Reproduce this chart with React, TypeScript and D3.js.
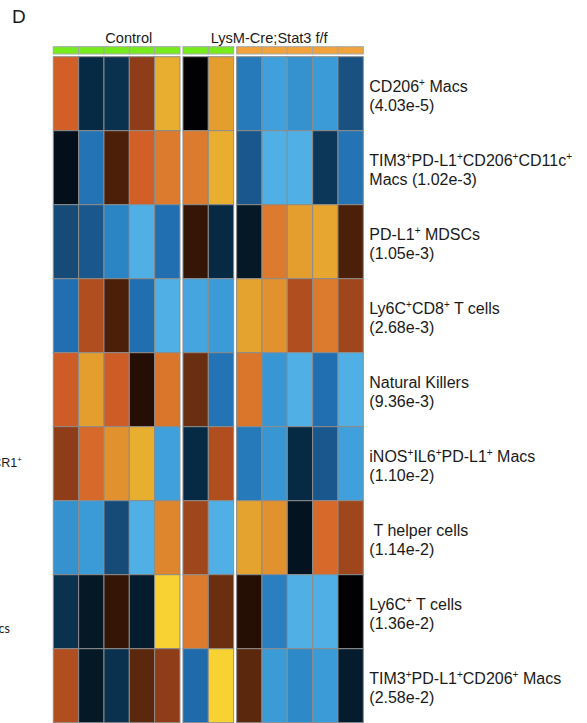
import React from 'react';
import * as d3 from 'd3';

// ---- data ----
const columns = ['C1', 'C2', 'C3', 'C4', 'C5', 'C6', 'C7', 'K1', 'K2', 'K3', 'K4', 'K5'];
const columnGroup = [0, 0, 0, 0, 0, 1, 1, 2, 2, 2, 2, 2];
const columnCondition = ['Control', 'Control', 'Control', 'Control', 'Control', 'Control', 'Control',
  'LysM-Cre;Stat3 f/f', 'LysM-Cre;Stat3 f/f', 'LysM-Cre;Stat3 f/f', 'LysM-Cre;Stat3 f/f', 'LysM-Cre;Stat3 f/f'];
const conditions = ['Control', 'LysM-Cre;Stat3 f/f'];

const rowNames = [
  'CD206+ Macs',
  'TIM3+PD-L1+CD206+CD11c+ Macs',
  'PD-L1+ MDSCs',
  'Ly6C+CD8+ T cells',
  'Natural Killers',
  'iNOS+IL6+PD-L1+ Macs',
  ' T helper cells',
  'Ly6C+ T cells',
  'TIM3+PD-L1+CD206+ Macs',
];
const pValues = ['4.03e-5', '1.02e-3', '1.05e-3', '2.68e-3', '9.36e-3', '1.10e-2', '1.14e-2', '1.36e-2', '2.58e-2'];
const labelLine1 = ['CD206+ Macs', 'TIM3+PD-L1+CD206+CD11c+', 'PD-L1+ MDSCs', 'Ly6C+CD8+ T cells',
  'Natural Killers', 'iNOS+IL6+PD-L1+ Macs', ' T helper cells', 'Ly6C+ T cells', 'TIM3+PD-L1+CD206+ Macs'];
const labelLine2 = pValues.map((p, i) => (i === 1 ? `Macs (${p})` : `(${p})`));

const cd206Macs = [2.0, -0.5, -0.6, 1.5, 3.0, 0.0, 2.8, -1.8, -2.6, -2.3, -2.5, -1.1];
const tim3Cd11cMacs = [-0.2, -1.7, 1.0, 2.0, 2.5, 2.5, 3.0, -1.2, -2.9, -2.9, -0.7, -1.7];
const pdl1Mdscs = [-1.0, -1.2, -2.0, -2.9, -1.6, 0.6, -0.5, -0.3, 2.5, 2.8, 2.9, 1.0];
const ly6cCd8T = [-1.6, 1.7, 1.0, -1.6, -2.9, -2.7, -2.5, 2.85, 2.7, 1.7, 2.5, 1.6];
const naturalKillers = [1.95, 2.8, 1.95, 0.4, 2.4, 1.2, -1.7, 2.4, -2.4, -2.9, -1.6, -2.9];
const inosIl6Macs = [1.5, 2.2, 2.7, 3.0, -2.6, -0.5, 1.7, -1.8, -2.4, -0.5, -1.2, -2.6];
const tHelper = [-2.3, -2.5, -1.0, -2.9, 2.6, 1.6, -2.9, 2.85, 2.7, -0.25, 2.2, 1.6];
const ly6cT = [-0.6, -0.3, 0.6, -0.35, 3.5, 2.5, 1.2, 0.4, -1.9, -2.9, -2.9, 0.0];
const tim3Cd206Macs = [1.7, -0.3, -0.6, 1.1, 1.5, -1.5, 3.5, 1.1, -2.5, -2.1, -2.5, -0.35];
const matrix = [cd206Macs, tim3Cd11cMacs, pdl1Mdscs, ly6cCd8T, naturalKillers, inosIl6Macs, tHelper, ly6cT, tim3Cd206Macs];

const colorStops = [-3, -2.5, -2, -1.5, -1, -0.5, -0.25, 0, 0.5, 1, 1.2, 1.5, 1.7, 2, 2.5, 2.8, 3, 3.5];
const colorValues = ['#55b5e9', '#3b9bd7', '#2b84c4', '#1f6aab', '#164b78', '#072a44', '#03131f', '#010104',
  '#2e1305', '#4c1f09', '#6a2e10', '#8f3d18', '#b04e20', '#d35f28', '#dc7a2d', '#e39e2e', '#e8ae30', '#f8d232'];
const conditionColors = ['#77ec1c', '#f1a23a'];

// ---- layout ----
const W = 587;
const H = 723;
const left = 53.3;
const top = 56.7;
const groupGap = 3;
const heatW = 310;
const rowH = 74;
const barTop = 46.7;
const barH = 7.3;

function Label({ text, x, y, size, supSize, anchor }: { text: string; x: number; y: number; size: number; supSize: number; anchor?: string }) {
  const parts = text.split(/(\+)/).filter((s) => s.length > 0);
  const raise = size * 0.38;
  let raised = false;
  return (
    <text x={x} y={y} fontSize={size} textAnchor={anchor || 'start'} style={{ whiteSpace: 'pre' }}
      fontFamily="'Liberation Sans', Arial, Helvetica, sans-serif" fill="#1a1a1a">
      {parts.map((p, i) => {
        if (p === '+') {
          const dy = raised ? 0 : -raise;
          raised = true;
          return <tspan key={i} dy={dy} fontSize={supSize}>+</tspan>;
        }
        const dy = raised ? raise : 0;
        raised = false;
        return <tspan key={i} dy={dy}>{p}</tspan>;
      })}
    </text>
  );
}

export default function App() {
  const color = d3.scaleLinear<string>().domain(colorStops).range(colorValues).interpolate(d3.interpolateRgb).clamp(true);
  const nGaps = d3.max(columnGroup) as number;
  const x = d3.scaleBand<string>().domain(columns).range([left, left + heatW - nGaps * groupGap]).padding(0);
  const colX = (i: number) => (x(columns[i]) as number) + columnGroup[i] * groupGap;
  const cw = x.bandwidth();
  const y = d3.scaleBand<string>().domain(rowNames).range([top, top + rowH * rowNames.length]).padding(0);
  const condColor = d3.scaleOrdinal<string, string>().domain(conditions).range(conditionColors);
  const labelX = left + heatW + 6;
  const group3Left = colX(columnCondition.indexOf(conditions[1]));

  return (
    <svg width={W} height={H} style={{ position: 'absolute', left: 0, top: 0, background: '#fff' }}>
      <rect x={0} y={0} width={W} height={H} fill="#fff" />
      <text x={12} y={23} fontSize={19} fontFamily="'Liberation Sans', Arial, sans-serif" fill="#1a1a1a">D</text>

      {/* fragments of neighbouring panel labels */}
      <Label text="CX3CR1+" x={22} y={467} size={12.5} supSize={8} anchor="end" />
      <text x={10} y={633} fontSize={12.5} textAnchor="end" fontFamily="Lato, 'Open Sans', sans-serif" fill="#1a1a1a">Macs</text>

      {/* condition labels */}
      <text x={left + 52} y={42.5} fontSize={14.6} fontFamily="'Liberation Sans', Arial, sans-serif" fill="#1a1a1a">{conditions[0]}</text>
      <text x={group3Left - 26} y={42.5} fontSize={14.6} fontFamily="'Liberation Sans', Arial, sans-serif" fill="#1a1a1a">{conditions[1]}</text>

      {/* annotation bar */}
      {columns.map((c, i) => (
        <rect key={'a' + c} x={colX(i)} y={barTop} width={cw} height={barH}
          fill={condColor(columnCondition[i])} stroke="#a6a6a6" strokeWidth={1} />
      ))}

      {/* heatmap cells */}
      {matrix.map((row, r) =>
        row.map((v, i) => (
          <rect key={r + '-' + i} x={colX(i)} y={y(rowNames[r]) as number} width={cw} height={y.bandwidth()}
            fill={color(v)} stroke="#8c8c8c" strokeWidth={1} />
        ))
      )}

      {/* row labels */}
      {rowNames.map((n, r) => {
        const cy = (y(n) as number) + y.bandwidth() / 2;
        return (
          <g key={'l' + r}>
            <Label text={labelLine1[r]} x={labelX} y={cy - 2} size={16} supSize={10} />
            <Label text={labelLine2[r]} x={labelX} y={cy + 17} size={16} supSize={10} />
          </g>
        );
      })}
    </svg>
  );
}
